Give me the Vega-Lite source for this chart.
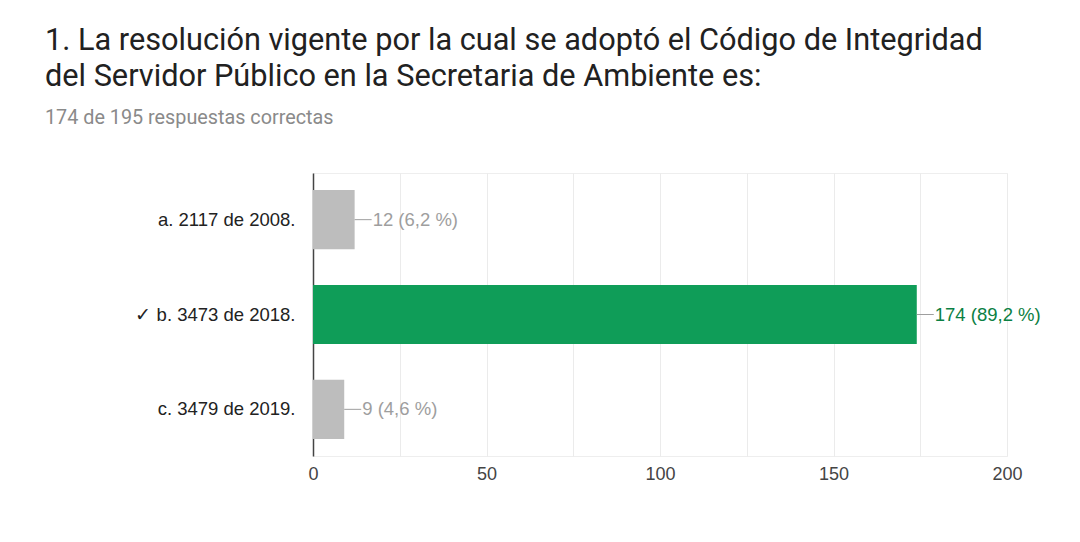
{
  "$schema": "https://vega.github.io/schema/vega-lite/v6.json",
  "width": 694,
  "height": 283,
  "padding": {"left": 8, "top": 24, "right": 20, "bottom": 20},
  "background": "white",
  "title": {
    "text": ["1. La resolución vigente por la cual se adoptó el Código de Integridad", "del Servidor Público en la Secretaria de Ambiente es:"],
    "subtitle": "174 de 195 respuestas correctas",
    "anchor": "start",
    "frame": "group",
    "dx": -268,
    "font": "Roboto",
    "fontSize": 30.7,
    "fontWeight": "normal",
    "lineHeight": 36,
    "color": "#212121",
    "subtitleFont": "Roboto",
    "subtitleFontSize": 19.8,
    "subtitleColor": "#8a8a8a",
    "subtitlePadding": 16,
    "offset": 44
  },
  "data": {
    "values": [
      {"option": "a. 2117 de 2008.", "count": 12, "label": "12 (6,2 %)", "correct": false},
      {"option": "✓ b. 3473 de 2018.", "count": 174, "label": "174 (89,2 %)", "correct": true},
      {"option": "c. 3479 de 2019.", "count": 9, "label": "9 (4,6 %)", "correct": false}
    ]
  },
  "config": {
    "view": {"stroke": "#eeeeee"},
    "font": "Liberation Sans"
  },
  "encoding": {
    "y": {
      "field": "option",
      "type": "nominal",
      "sort": null,
      "scale": {"paddingInner": 0.376, "paddingOuter": 0.18},
      "axis": {
        "title": null,
        "ticks": false,
        "grid": false,
        "domain": true,
        "domainColor": "#444444",
        "domainWidth": 1.5,
        "labelFont": "Liberation Sans",
        "labelFontSize": 18.5,
        "labelColor": "#222222",
        "labelPadding": 18,
        "minExtent": 305,
        "maxExtent": 305
      }
    }
  },
  "layer": [
    {
      "mark": {"type": "bar"},
      "encoding": {
        "x": {
          "field": "count",
          "type": "quantitative",
          "scale": {"domain": [0, 200], "nice": false},
          "axis": {
            "title": null,
            "values": [0, 25, 50, 75, 100, 125, 150, 175, 200],
            "labelExpr": "datum.value % 50 === 0 ? datum.label : ''",
            "labelFlush": false,
            "ticks": false,
            "domain": false,
            "grid": true,
            "gridColor": "#ebebeb",
            "labelFont": "Liberation Sans",
            "labelFontSize": 18,
            "labelColor": "#444444",
            "labelPadding": 9
          }
        },
        "color": {
          "field": "correct",
          "type": "nominal",
          "scale": {"domain": [false, true], "range": ["#bdbdbd", "#0f9d58"]},
          "legend": null
        }
      }
    },
    {
      "mark": {"type": "rule", "x2Offset": 17, "color": "#9e9e9e", "strokeWidth": 1},
      "encoding": {
        "x": {"field": "count", "type": "quantitative"},
        "x2": {"field": "count"}
      }
    },
    {
      "mark": {"type": "text", "align": "left", "baseline": "middle", "dx": 18, "fontSize": 18.5, "font": "Liberation Sans"},
      "encoding": {
        "x": {"field": "count", "type": "quantitative"},
        "text": {"field": "label"},
        "color": {"condition": {"test": "datum.correct", "value": "#0b8043"}, "value": "#9e9e9e"}
      }
    }
  ]
}
